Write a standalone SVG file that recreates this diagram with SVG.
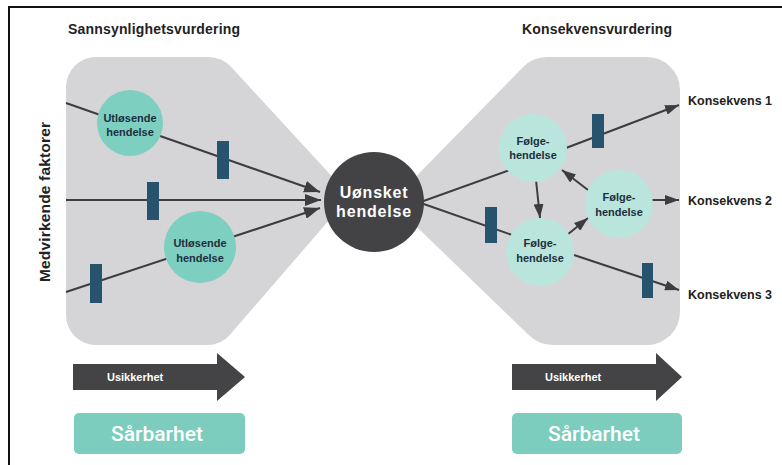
<svg xmlns="http://www.w3.org/2000/svg" width="782" height="465" viewBox="0 0 782 465">
<defs>
<style>
.shape{fill:#d5d5d7}
.ln{stroke:#3d3d3f;stroke-width:2;fill:none}
.bar{fill:#27536f}
.ut{fill:#7dcfc0}
.fo{fill:#b9e5dc}
.ct{font-family:"Liberation Sans",Arial,sans-serif;font-weight:bold;font-size:11px;fill:#1d2f3e;text-anchor:middle}
.title{font-family:"Liberation Sans",Arial,sans-serif;font-weight:bold;font-size:14px;fill:#222}
.kon{font-family:"Liberation Sans",Arial,sans-serif;font-weight:bold;font-size:12.5px;fill:#222}
.unc{fill:#444446}
.unct{font-family:"Liberation Sans",Arial,sans-serif;font-weight:bold;font-size:11px;fill:#fff}
.box{fill:#7ccdbd}
.boxt{font-family:Roboto,"Liberation Sans",Arial,sans-serif;font-weight:500;font-size:21px;fill:#fff;text-anchor:middle}
</style>
<marker id="ahL" viewBox="0 0 16 12" refX="16" refY="6" markerWidth="16" markerHeight="12" orient="auto" markerUnits="userSpaceOnUse"><path d="M0,0 L16,6 L0,12 z" fill="#3d3d3f"/></marker>
<marker id="ah" viewBox="0 0 14 10" refX="14" refY="5" markerWidth="14" markerHeight="10" orient="auto" markerUnits="userSpaceOnUse"><path d="M0,0 L14,5 L0,10 z" fill="#3d3d3f"/></marker>
</defs>

<rect x="9" y="7" width="790" height="470" fill="none" stroke="#111" stroke-width="2"/>

<g id="background">
<path class="shape" d="M96,57 L208,57 Q222,57 231.5,67.3 L350,196 L230.2,334.4 Q221,345 207,345 L96,345 A30,30 0 0 1 66,315 L66,87 A30,30 0 0 1 96,57 Z"/>
<path class="shape" d="M647,57 A33,33 0 0 1 680,90 L680,312 A33,33 0 0 1 647,345 L553,345 Q539,345 528.9,335.3 L391,202 L523.2,67 Q533,57 547,57 Z"/>
</g>

<g id="titles">
<text class="title" x="68" y="34" textLength="172">Sannsynlighetsvurdering</text>
<text class="title" x="522" y="34" textLength="150">Konsekvensvurdering</text>
<text class="title" transform="translate(50,202) rotate(-90)" text-anchor="middle" style="font-size:15.5px" textLength="160">Medvirkende faktorer</text>
</g>

<g id="connectors">
<path class="ln" d="M66,103 L320,192" marker-end="url(#ahL)"/>
<path class="ln" d="M66,200 L321,200" marker-end="url(#ahL)"/>
<path class="ln" d="M66,292 L320,208" marker-end="url(#ahL)"/>
<path class="ln" d="M418,203 L510,170"/>
<path class="ln" d="M418,202 L512,235"/>
<path class="ln" d="M536,180 L540,218" marker-end="url(#ah)"/>
<path class="ln" d="M567,235 L588,218" marker-end="url(#ah)"/>
<path class="ln" d="M588,190 L562,170" marker-end="url(#ah)"/>
<path class="ln" d="M566,148 L679,105" marker-end="url(#ah)"/>
<path class="ln" d="M652,200 L679,200" marker-end="url(#ah)"/>
<path class="ln" d="M574,255 L679,290" marker-end="url(#ah)"/>
</g>

<g id="barriers">
<rect class="bar" x="217" y="141" width="12" height="38"/>
<rect class="bar" x="147" y="182" width="12" height="38"/>
<rect class="bar" x="90" y="264" width="12" height="39"/>
<rect class="bar" x="485" y="207" width="12" height="36"/>
<rect class="bar" x="592" y="114" width="12" height="34"/>
<rect class="bar" x="642" y="263" width="11" height="35"/>
</g>

<g id="utlosende1">
<circle class="ut" cx="130" cy="123" r="33"/>
<text class="ct" x="130" y="122">Utløsende</text>
<text class="ct" x="130" y="136">hendelse</text>
</g>
<g id="utlosende2">
<circle class="ut" cx="200" cy="247" r="36"/>
<text class="ct" x="200" y="247">Utløsende</text>
<text class="ct" x="200" y="262">hendelse</text>
</g>

<g id="uonsket">
<circle cx="374" cy="202" r="50" fill="#434345"/>
<text x="374" y="198" text-anchor="middle" font-family="'Liberation Sans',Arial,sans-serif" font-weight="bold" font-size="16" fill="#fff" letter-spacing="0.8">Uønsket</text>
<text x="374" y="217" text-anchor="middle" font-family="'Liberation Sans',Arial,sans-serif" font-weight="bold" font-size="16" fill="#fff" letter-spacing="0.8">hendelse</text>
</g>

<g id="folge1">
<circle class="fo" cx="533" cy="148" r="34"/>
<text class="ct" x="533" y="145">Følge-</text>
<text class="ct" x="533" y="159">hendelse</text>
</g>
<g id="folge2">
<circle class="fo" cx="540" cy="252" r="34"/>
<text class="ct" x="540" y="247">Følge-</text>
<text class="ct" x="540" y="262">hendelse</text>
</g>
<g id="folge3">
<circle class="fo" cx="619" cy="204" r="34"/>
<text class="ct" x="619" y="201">Følge-</text>
<text class="ct" x="619" y="216">hendelse</text>
</g>

<g id="konsekvenser">
<text class="kon" x="688" y="105">Konsekvens 1</text>
<text class="kon" x="688" y="205">Konsekvens 2</text>
<text class="kon" x="688" y="299">Konsekvens 3</text>
</g>

<g id="usikkerhet-left">
<polygon class="unc" points="73,364 217,364 217,353 245,377 217,401 217,390 73,390"/>
<text class="unct" x="107" y="381">Usikkerhet</text>
</g>
<g id="usikkerhet-right">
<polygon class="unc" points="512,364 656,364 656,353 682,377 656,401 656,390 512,390"/>
<text class="unct" x="545" y="381">Usikkerhet</text>
</g>

<g id="sarbarhet-left">
<rect class="box" x="74" y="413" width="171" height="41" rx="5"/>
<text class="boxt" x="157" y="441">Sårbarhet</text>
</g>
<g id="sarbarhet-right">
<rect class="box" x="512" y="413" width="170" height="41" rx="5"/>
<text class="boxt" x="594" y="441">Sårbarhet</text>
</g>
</svg>
